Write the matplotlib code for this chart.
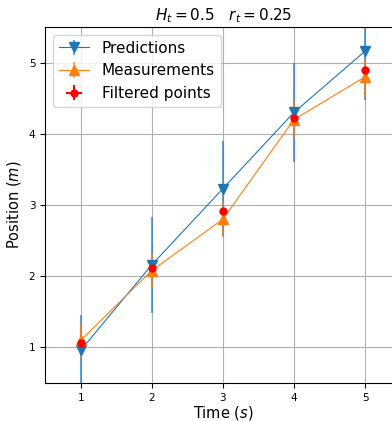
import numpy as np
import matplotlib

matplotlib.use("agg")
import matplotlib.pyplot as plt

t = [1, 2, 3, 4, 5]

pred = [0.96, 2.16, 3.23, 4.30, 5.16]
pred_err = [0.50, 0.67, 0.67, 0.69, 0.69]

meas = [1.10, 2.08, 2.80, 4.20, 4.80]
meas_err = [0.25, 0.25, 0.25, 0.25, 0.25]

filt = [1.06, 2.11, 2.92, 4.22, 4.89]
filt_err = [0.02, 0.02, 0.02, 0.02, 0.02]

fig = plt.figure(figsize=(3.92, 4.21), dpi=100)
ax = fig.add_axes([0.115, 0.090, 0.907, 0.846])

ax.errorbar(t, pred, yerr=pred_err, fmt="-v", color="C0", lw=0.8,
            markersize=7, elinewidth=1.5, ecolor=(0.12, 0.47, 0.71, 0.65),
            label="Predictions")
ax.errorbar(t, meas, yerr=meas_err, fmt="-^", color="C1", lw=0.8,
            markersize=7, elinewidth=1.5, ecolor=(1.0, 0.5, 0.05, 0.65),
            label="Measurements")
ax.errorbar(t, filt, yerr=filt_err, xerr=filt_err, fmt="o", color="red",
            markersize=5, elinewidth=1.5, label="Filtered points")

ax.set_xlim(0.5, 5.5)
ax.set_ylim(0.5, 5.5)
ax.set_xticks(t)
ax.tick_params(labelsize=7.5)
ax.grid(True)
ax.set_xlabel("Time ($s$)", fontsize=10.5, labelpad=0.5)
ax.set_ylabel("Position ($m$)", fontsize=10.5)
fig.text(0.57, 0.962, r"$H_t = 0.5 \quad r_t = 0.25$", ha="center",
         va="center", fontsize=11)
ax.legend(loc="upper left", fontsize=11)

plt.savefig("out.png", dpi=100)
